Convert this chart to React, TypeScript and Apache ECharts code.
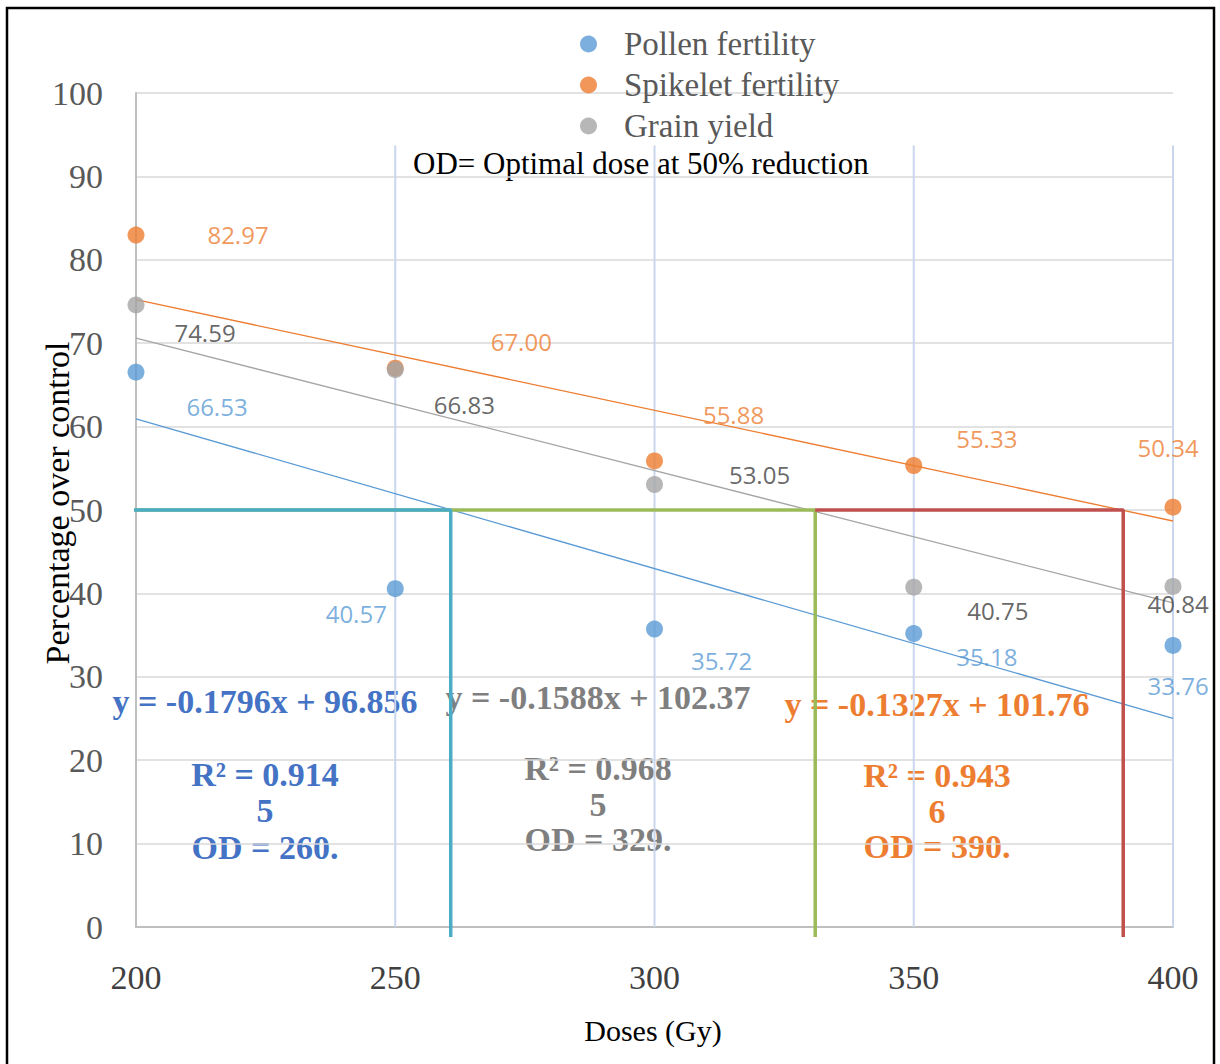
import React, { useEffect, useRef } from "react";
import * as echarts from "echarts";

// ---- data ----
const doses = [200, 250, 300, 350, 400];
const pollenFertility = [66.53, 40.57, 35.72, 35.18, 33.76];
const spikeletFertility = [82.97, 67.0, 55.88, 55.33, 50.34];
const grainYield = [74.59, 66.83, 53.05, 40.75, 40.84];

// linear trendlines [slope, intercept]
const pollenTrend = [-0.1796, 96.856];
const grainTrend = [-0.1588, 102.37];
const spikeletTrend = [-0.1327, 101.76];

// optimal dose (50% reduction) guide positions as drawn
const odPollen = 260.7;
const odGrain = 331;
const odSpikelet = 390.4;
const odLevel = 50;

const gridXs = [250, 300, 350, 400];

// ---- label placement (pixel offsets from the point) ----
const pollenOffsets = [[81, 34], [-39, 25], [67, 31], [73, 23], [5, 40]];
const spikeletOffsets = [[102, -1], [126, -27], [79, -46], [73, -27], [-5, -60]];
const grainOffsets = [[69, 28], [69, 35], [105, -10], [84, 23], [5, 17]];

const BLUE = "#5b9bd5";
const ORANGE = "#ed7d31";
const GRAY = "#a5a5a5";
const SERIF = '"Liberation Serif", "Times New Roman", serif';

function pointSeries(name: string, values: number[], offsets: number[][], color: string, labelColor: string) {
  return {
    name,
    type: "scatter",
    symbol: "circle",
    symbolSize: 17,
    itemStyle: { color },
    z: 10,
    data: doses.map((d, i) => ({ value: [d, values[i]], label: { offset: offsets[i] } })),
    label: {
      show: true,
      position: "inside",
      formatter: (p: any) => Number(p.value[1]).toFixed(2),
      color: labelColor,
      fontSize: 24,
      fontFamily: '"Open Sans", "Noto Sans", sans-serif',
    },
  };
}

function trendSeries(name: string, coef: number[], color: string) {
  const x0 = doses[0];
  const x1 = doses[doses.length - 1];
  return {
    name,
    type: "line",
    showSymbol: false,
    symbol: "none",
    silent: true,
    z: 4,
    lineStyle: { color, width: 1.3 },
    data: [
      [x0, coef[0] * x0 + coef[1]],
      [x1, coef[0] * x1 + coef[1]],
    ],
  };
}

function guideSeries(name: string, xStart: number, xEnd: number, color: string, z: number) {
  return {
    name,
    type: "line",
    symbol: "none",
    silent: true,
    clip: false,
    z,
    lineStyle: { color, width: 3.5 },
    data: [
      [xStart, odLevel],
      [xEnd, odLevel],
      [xEnd, -1.2],
    ],
  };
}

export default function App() {
  const ref = useRef<HTMLDivElement>(null);

  useEffect(() => {
    if (!ref.current) return;
    const chart = echarts.init(ref.current, undefined, { renderer: "svg" });

    const vGrid = gridXs.map((x) => ({
      name: "vgrid" + x,
      type: "line",
      symbol: "none",
      silent: true,
      z: 2,
      lineStyle: { color: "#c9d6ee", width: 2 },
      data: [
        [x, 0],
        [x, 93.7],
      ],
    }));

    const option: any = {
      animation: false,
      backgroundColor: "#ffffff",
      grid: { left: 136, right: 47, top: 93, bottom: 137 },
      xAxis: {
        type: "value",
        min: 200,
        max: 400,
        interval: 50,
        axisLine: { show: true, lineStyle: { color: "#bfbfbf", width: 2 } },
        axisTick: { show: false },
        splitLine: { show: false },
        axisLabel: { color: "#404040", fontSize: 34, fontFamily: SERIF, margin: 33 },
      },
      yAxis: {
        type: "value",
        min: 0,
        max: 100,
        interval: 10,
        axisLine: { show: true, lineStyle: { color: "#bfbfbf", width: 2 } },
        axisTick: { show: false },
        splitLine: { show: true, lineStyle: { color: "#d9d9d9", width: 1.5 } },
        axisLabel: { color: "#595959", fontSize: 34, fontFamily: SERIF, margin: 33 },
      },
      legend: {
        data: ["Pollen fertility", "Spikelet fertility", "Grain yield"],
        orient: "vertical",
        left: 575,
        top: 22,
        icon: "circle",
        itemWidth: 17,
        itemHeight: 17,
        itemGap: 7,
        textStyle: {
          color: "#595959",
          fontSize: 33,
          lineHeight: 34,
          fontFamily: SERIF,
          padding: [0, 0, 0, 22],
        },
      },
      series: [
        ...vGrid,
        guideSeries("odGrain", 198.3, odGrain, "#9bbb59", 5),
        guideSeries("odPollen", 198.8, odPollen, "#4bacc6", 6),
        guideSeries("odSpikelet", odGrain, odSpikelet, "#c0504d", 5),
        trendSeries("trendPollen", pollenTrend, BLUE),
        trendSeries("trendSpikelet", spikeletTrend, ORANGE),
        trendSeries("trendGrain", grainTrend, GRAY),
        pointSeries("Pollen fertility", pollenFertility, pollenOffsets, BLUE, BLUE),
        pointSeries("Spikelet fertility", spikeletFertility, spikeletOffsets, ORANGE, ORANGE),
        pointSeries("Grain yield", grainYield, grainOffsets, GRAY, "#404040"),
      ],
      graphic: [
        {
          type: "rect",
          silent: true,
          shape: { x: 7, y: 8, width: 1207, height: 1070 },
          style: { fill: "none", stroke: "#000000", lineWidth: 2.5 },
          z: 100,
        },
        {
          type: "text",
          x: 413,
          y: 163,
          style: {
            text: "OD= Optimal dose at 50% reduction",
            fill: "#000000",
            font: `31px ${SERIF}`,
            align: "left",
            verticalAlign: "middle",
          },
          z: 0,
        },
        {
          type: "text",
          x: 57,
          y: 503,
          rotation: Math.PI / 2,
          style: {
            text: "Percentage over control",
            fill: "#000000",
            font: `34px ${SERIF}`,
            align: "center",
            verticalAlign: "middle",
          },
          z: 100,
        },
        {
          type: "text",
          x: 653,
          y: 1030,
          style: {
            text: "Doses (Gy)",
            fill: "#000000",
            font: `30px ${SERIF}`,
            align: "center",
            verticalAlign: "middle",
          },
          z: 100,
        },
        {
          type: "text",
          x: 265,
          y: 774.5,
          style: {
            text: "y = -0.1796x + 96.856\n\nR² = 0.914\n5\nOD = 260.",
            fill: "#4472c4",
            font: `bold 34px ${SERIF}`,
            align: "center",
            verticalAlign: "middle",
            lineHeight: 36.3,
          },
          z: 0,
        },
        {
          type: "text",
          x: 598,
          y: 768.5,
          style: {
            text: "y = -0.1588x + 102.37\n\nR² = 0.968\n5\nOD = 329.",
            fill: "#7f7f7f",
            font: `bold 34px ${SERIF}`,
            align: "center",
            verticalAlign: "middle",
            lineHeight: 35.7,
          },
          z: 0,
        },
        {
          type: "text",
          x: 937,
          y: 775.5,
          style: {
            text: "y = -0.1327x + 101.76\n\nR² = 0.943\n6\nOD = 390.",
            fill: ORANGE,
            font: `bold 34px ${SERIF}`,
            align: "center",
            verticalAlign: "middle",
            lineHeight: 35.7,
          },
          z: 0,
        },
      ],
    };

    chart.setOption(option);
    return () => chart.dispose();
  }, []);

  return (
    <div
      ref={ref}
      style={{ position: "fixed", left: 0, top: 0, width: 1220, height: 1064, background: "#fff" }}
    />
  );
}
